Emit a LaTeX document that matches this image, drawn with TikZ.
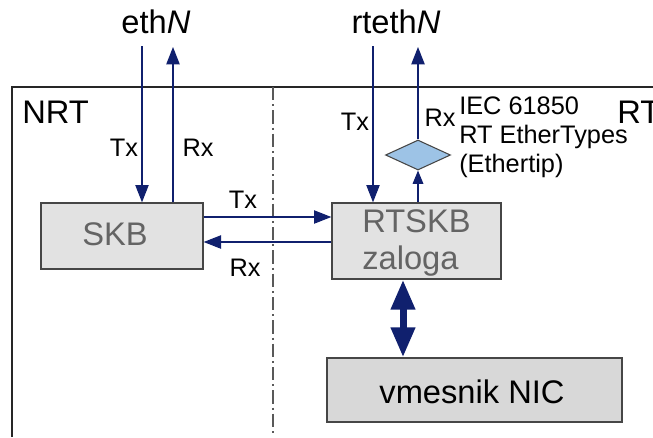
\documentclass[tikz,border=0pt]{standalone}
\usepackage{fontspec}
\setmainfont{Liberation Sans}
\usetikzlibrary{arrows.meta,shapes.geometric}
\definecolor{navy}{RGB}{16,32,110}
\definecolor{boxfill}{RGB}{226,226,226}
\definecolor{nicfill}{RGB}{216,216,216}
\definecolor{boxline}{RGB}{70,70,70}
\definecolor{diafill}{RGB}{157,195,230}
\definecolor{greytext}{RGB}{100,100,100}
\tikzset{
  box/.style={draw=boxline,line width=1pt,fill=boxfill,inner sep=0pt},
  arr/.style={navy,line width=0.9pt,-{Triangle[length=13pt,width=10pt]}},
  sarr/.style={navy,line width=0.9pt,-{Triangle[length=10pt,width=8pt]}},
  lbl/.style={font=\fontsize{19}{22}\selectfont,inner sep=0pt},
  big/.style={font=\fontsize{24.5}{28}\selectfont,inner sep=0pt},
}
\begin{document}
\begin{tikzpicture}[x=0.75pt,y=-0.75pt]
\useasboundingbox (0,0) rectangle (653,437);
\clip (0,0) rectangle (653,437);
% frame
\draw[line width=1.5pt,black!85] (12,437) -- (12,87) -- (660,87);
\draw[black!65,line width=0.9pt,dash pattern=on 10pt off 3pt on 1.5pt off 3pt] (273,87) -- (273,437);
% titles
\node[big] (eth) at (156,22) {eth\textit{N}};
\node[big] (rteth) at (396,22) {rteth\textit{N}};
\node[big,anchor=west] (nrt) at (22,112) {NRT};
\node[big,anchor=west] (rt) at (617,112) {RT};
% boxes
\node[box,minimum width=121.5pt,minimum height=49.5pt] (skb) at (122,236) {};
\node[big,text=greytext] (skbt) at (115,234) {SKB};
\node[box,minimum width=126.75pt,minimum height=57pt] (rtskb) at (416.5,241) {};
\node[font=\fontsize{24.5}{27.5}\selectfont,text=greytext,inner sep=0pt,align=left,anchor=west] (rtskbt) at (362,243) {RTSKB\\zaloga};
\node[box,fill=nicfill,minimum width=221.25pt,minimum height=48pt] (nic) at (474.5,390) {};
\node[big] (nict) at (472,392) {vmesnik NIC};
\node[diamond,draw=boxline,fill=diafill,line width=0.8pt,inner sep=0pt,minimum width=48.75pt,minimum height=22.5pt] (dia) at (418,155) {};
\node[align=left,anchor=north west,inner sep=0pt,font=\fontsize{19}{21.4}\selectfont] (iec) at (459,97) {IEC 61850\\RT EtherTypes\\(Ethertip)};
% coordinates
\coordinate (ethtx) at (142,46);
\coordinate (ethrx) at (173,47);
\coordinate (rtx) at (373,46);
\coordinate (rrx) at (418,47);
% arrows NRT
\draw[arr] (ethtx) -- (ethtx |- skb.north);
\draw[arr] (ethrx |- skb.north) -- (ethrx);
\node[lbl] (tx1) at (124,148) {Tx};
\node[lbl] (rx1) at (198,148) {Rx};
% horizontal
\draw[arr] (skb.east |- 0,217) -- (rtskb.west |- 0,217);
\draw[arr] (rtskb.west |- 0,242) -- (skb.east |- 0,242);
\node[lbl] (tx2) at (243,200) {Tx};
\node[lbl] (rx2) at (245,268) {Rx};
% RT arrows
\draw[arr] (rtx) -- (rtx |- rtskb.north);
\draw[arr] (dia.north) -- (rrx);
\draw[sarr] (rtskb.north -| dia.south) -- (dia.south);
\node[lbl] (tx3) at (355,122) {Tx};
\node[lbl] (rx3) at (440,118) {Rx};
% double arrow
\draw[navy,line width=5.25pt,{Triangle[length=22.5pt,width=17.25pt]}-{Triangle[length=22.5pt,width=17.25pt]}]
  (rtskb.south -| 403,0) -- (nic.north -| 403,0);
\end{tikzpicture}
\end{document}
